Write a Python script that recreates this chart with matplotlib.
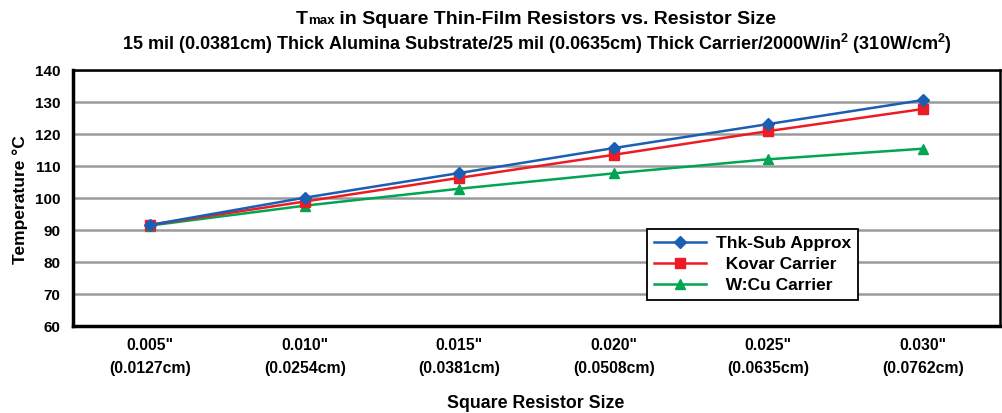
import matplotlib
matplotlib.use("Agg")
import matplotlib.pyplot as plt

plt.rcParams['font.family'] = ['Liberation Sans', 'DejaVu Sans']
plt.rcParams['font.weight'] = 'bold'
plt.rcParams['mathtext.fontset'] = 'custom'
plt.rcParams['mathtext.rm'] = 'Liberation Sans:bold'
plt.rcParams['mathtext.bf'] = 'Liberation Sans:bold'

categories = ['0.005"\n(0.0127cm)', '0.010"\n(0.0254cm)', '0.015"\n(0.0381cm)',
              '0.020"\n(0.0508cm)', '0.025"\n(0.0635cm)', '0.030"\n(0.0762cm)']
thk_sub = [91.6, 100.1, 107.8, 115.6, 123.1, 130.6]
kovar = [91.6, 98.9, 106.3, 113.5, 120.9, 127.8]
wcu = [91.4, 97.6, 102.9, 107.7, 112.1, 115.4]
series_labels = ['Thk-Sub Approx', '  Kovar Carrier', '  W:Cu Carrier']
yticks = [60, 70, 80, 90, 100, 110, 120, 130, 140]

W, H = 1003, 413
fig = plt.figure(figsize=(W/100, H/100), dpi=100)
ax = fig.add_axes([73/W, (H-326)/H, 927/W, 256/H])

x = list(range(len(categories)))
ax.plot(x, thk_sub, color='#1a5fb4', marker='D', markersize=6, lw=1.8, label=series_labels[0], zorder=5)
ax.plot(x, kovar, color='#ed1c24', marker='s', markersize=7, lw=1.8, label=series_labels[1], zorder=4)
ax.plot(x, wcu, color='#00a651', marker='^', markersize=7, lw=1.8, label=series_labels[2], zorder=3)

ax.set_xlim(-0.5, len(categories) - 0.5)
ax.set_ylim(60, 140)
ax.set_yticks(yticks)
ax.set_xticks(x)
ax.set_xticklabels(categories, fontsize=11.3, fontweight='bold', linespacing=1.6)
ax.tick_params(axis='y', labelsize=11, length=0, pad=9)
ax.tick_params(axis='x', length=0, pad=9)
for lab in ax.get_yticklabels():
    lab.set_fontweight('bold')
ax.yaxis.grid(True, color='#9a9a9a', lw=1.8)
ax.set_axisbelow(True)
for side in ['left', 'bottom']:
    ax.spines[side].set_linewidth(2.5)
    ax.spines[side].set_color('black')
for side in ['top', 'right']:
    ax.spines[side].set_linewidth(1.8)
    ax.spines[side].set_color('black')

fig.text(20/W, 1 - 200/H, 'Temperature °C', rotation=90, ha='center', va='center',
         fontsize=12.5, fontweight='bold')
fig.text(536/W, 1 - 403/H, 'Square Resistor Size', ha='center', va='center',
         fontsize=12.8, fontweight='bold')

# Title line 1 with small "max" on the baseline
pieces = [('T', 14), ('max', 9.5), (' in Square Thin-Film Resistors vs. Resistor Size', 14)]
renderer = fig.canvas.get_renderer()
texts = []
for s, fs in pieces:
    t = fig.text(0, 1 - 24/H, s, ha='left', va='baseline', fontsize=fs, fontweight='bold')
    texts.append(t)
widths = [t.get_window_extent(renderer).width for t in texts]
total = sum(widths)
x0 = 536 - total/2
for t, w in zip(texts, widths):
    t.set_x(x0/W)
    x0 += w

fig.text(537/W, 1 - 44/H, '15 mil (0.0381cm) Thick Alumina Substrate/25 mil (0.0635cm) Thick Carrier/2000W/in$^{2}$ (310W/cm$^{2}$)',
         ha='center', va='center', fontsize=13, fontweight='bold')

leg = ax.legend(loc='lower left', bbox_to_anchor=(0.619, 0.1016), borderaxespad=0,
                frameon=True, fancybox=False,
                edgecolor='black', borderpad=0.4, labelspacing=0.33,
                handlelength=3.0, handletextpad=0.6, framealpha=1, prop={'weight': 'bold', 'size': 12.5})
leg.get_frame().set_linewidth(1.3)

fig.savefig('out.png', dpi=100)
